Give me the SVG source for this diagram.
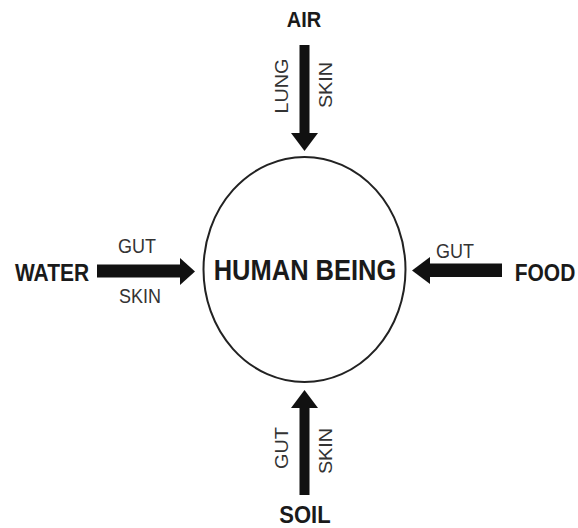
<svg xmlns="http://www.w3.org/2000/svg" width="578" height="528" viewBox="0 0 578 528">
<style>
text{font-family:"Liberation Sans",Arial,sans-serif;fill:#1a1a1a;text-anchor:middle}
.b{font-weight:bold}
.big{font-size:21px}
.lbl{font-size:18px;fill:#333}
.arr{fill:#111}
</style>
<rect width="578" height="528" fill="#fff"/>
<g id="human">
<ellipse cx="304.5" cy="269.5" rx="101" ry="112.5" fill="none" stroke="#222" stroke-width="2"/>
<text class="b" style="font-size:25.5px" transform="translate(305,280) scale(1,1.15)">HUMAN BEING</text>
</g>
<g id="air"><text class="b" style="font-size:20px" transform="translate(304,27) scale(1,1.1)">AIR</text></g>
<g id="water"><text class="b big" transform="translate(52,281) scale(1,1.12)">WATER</text></g>
<g id="food"><text class="b big" transform="translate(545,281) scale(1,1.12)">FOOD</text></g>
<g id="soil"><text class="b" style="font-size:22px" transform="translate(305,523) scale(1,1.05)">SOIL</text></g>
<g id="connectors">
<g id="air-arrow">
<rect class="arr" x="299.5" y="45" width="10" height="89"/>
<polygon class="arr" points="291,133 318,133 304.5,151"/>
<text class="lbl" transform="translate(288,86) rotate(-90) scale(1.1,1)">LUNG</text>
<text class="lbl" transform="translate(332,85) rotate(-90) scale(1.1,1)">SKIN</text>
</g>
<g id="water-arrow">
<rect class="arr" x="97" y="264.5" width="84" height="13"/>
<polygon class="arr" points="180,258 180,285 195,271.5"/>
<text class="lbl" transform="translate(137,253) scale(1,1.12)">GUT</text>
<text class="lbl" transform="translate(140,303) scale(1,1.12)">SKIN</text>
</g>
<g id="food-arrow">
<rect class="arr" x="429" y="263.5" width="73" height="13.5"/>
<polygon class="arr" points="430,257 430,284 412,270.5"/>
<text class="lbl" transform="translate(455,258) scale(1,1.12)">GUT</text>
</g>
<g id="soil-arrow">
<rect class="arr" x="299.5" y="407" width="10" height="88"/>
<polygon class="arr" points="291,408 318,408 304.5,390"/>
<text class="lbl" transform="translate(287.5,448) rotate(-90) scale(1.1,1)">GUT</text>
<text class="lbl" transform="translate(332,451) rotate(-90) scale(1.1,1)">SKIN</text>
</g>
</g>
</svg>
